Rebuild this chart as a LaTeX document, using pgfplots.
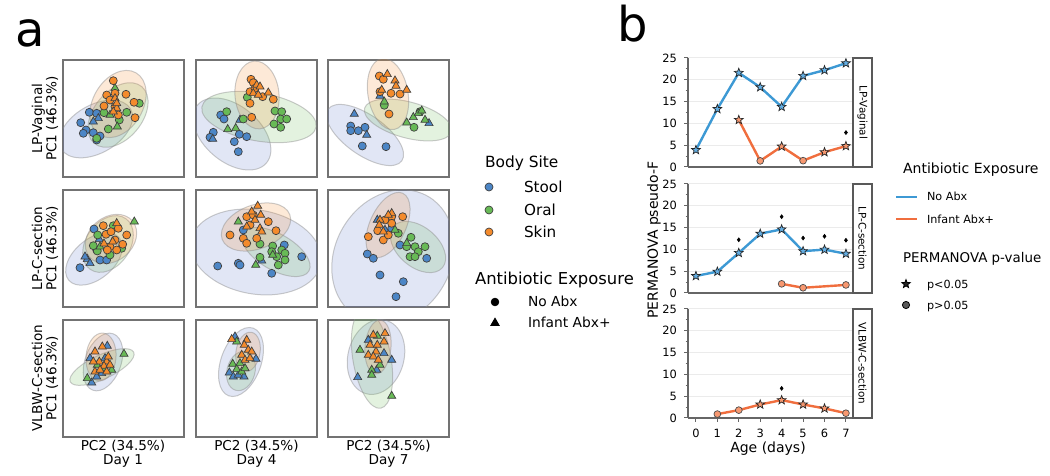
\documentclass[border=0pt]{standalone}
\usepackage{fontspec}
\setmainfont{DejaVu Sans}
\usepackage{pgfplots}
\pgfplotsset{compat=1.18}

\definecolor{cstool}{RGB}{76,134,198}
\definecolor{coral}{RGB}{104,186,86}
\definecolor{cskin}{RGB}{244,139,44}
\definecolor{estool}{RGB}{95,120,200}
\definecolor{bline}{RGB}{61,153,212}
\definecolor{bfill}{RGB}{100,175,228}
\definecolor{oline}{RGB}{240,110,62}
\definecolor{ofill}{RGB}{247,152,112}

\pgfdeclareplotmark{fstar}{%
  \pgfpathmoveto{\pgfpointpolar{90}{\pgfplotmarksize}}%
  \pgfpathlineto{\pgfpointpolar{126}{0.42\pgfplotmarksize}}%
  \pgfpathlineto{\pgfpointpolar{162}{\pgfplotmarksize}}%
  \pgfpathlineto{\pgfpointpolar{198}{0.42\pgfplotmarksize}}%
  \pgfpathlineto{\pgfpointpolar{234}{\pgfplotmarksize}}%
  \pgfpathlineto{\pgfpointpolar{270}{0.42\pgfplotmarksize}}%
  \pgfpathlineto{\pgfpointpolar{306}{\pgfplotmarksize}}%
  \pgfpathlineto{\pgfpointpolar{342}{0.42\pgfplotmarksize}}%
  \pgfpathlineto{\pgfpointpolar{18}{\pgfplotmarksize}}%
  \pgfpathlineto{\pgfpointpolar{54}{0.42\pgfplotmarksize}}%
  \pgfpathclose
  \pgfusepathqfillstroke}

\pgfplotsset{
  pca/.style={scale only axis, width=60.5pt, height=58.5pt, xmin=0, xmax=121, ymin=0, ymax=117,
    xtick=\empty, ytick=\empty, axis line style={draw=black!55, line width=0.7pt}, anchor=south west},
  mk/.style n args={3}{only marks, mark=#1, mark size=#2, mark options={fill=#3, draw=black!75, line width=0.35pt, solid}},
  stC/.style={mk={*}{2pt}{cstool}}, stT/.style={mk={triangle*}{2.35pt}{cstool}},
  orC/.style={mk={*}{2pt}{coral}},  orT/.style={mk={triangle*}{2.35pt}{coral}},
  skC/.style={mk={*}{2pt}{cskin}},  skT/.style={mk={triangle*}{2.35pt}{cskin}},
  bax/.style={scale only axis, width=82.5pt, height=54.5pt, xmin=-0.37, xmax=7.33, ymin=0, ymax=25,
    axis x line*=bottom, axis y line*=left, ytick={0,5,...,25}, minor y tick num=1,
    ymajorgrids, major grid style={black!8, line width=0.5pt}, tick align=outside,
    major tick length=2pt, minor tick length=1.2pt,
    axis line style={black!60, line width=0.6pt}, every tick/.style={black!60, line width=0.5pt},
    tick label style={font=\fontsize{5.7}{6}\selectfont}, /pgf/number format/assume math mode=true,
    clip=false, anchor=south west},
  bstar/.style={only marks, mark=fstar, mark size=2.3pt, mark options={fill=#1, draw=black!85, line width=0.35pt}},
  bcirc/.style={only marks, mark=*, mark size=1.7pt, mark options={fill=#1, draw=black!70, line width=0.35pt}},
  bdia/.style={only marks, mark=diamond*, mark size=0.9pt, mark options={fill=black, draw=black}},
}
\newcommand{\elli}[6]{\fill[fill=#1, fill opacity=0.19, draw=black!45, draw opacity=0.45, line width=0.5pt] (axis cs:#2,#3) ellipse [x radius=#4pt, y radius=#5pt, rotate=#6];}
\newcommand{\strip}[1]{%
  \draw[black!65, line width=0.6pt, fill=white] (rel axis cs:1,0) rectangle ([xshift=9.5pt]rel axis cs:1,1);
  \node[rotate=-90, font=\fontsize{5.2}{5.5}\selectfont] at ([xshift=4.75pt]rel axis cs:1,0.5) {#1};}

\begin{document}
\begin{tikzpicture}
\path[use as bounding box] (0,0) rectangle (525pt,238pt);

% ---------- Row 1: LP-Vaginal ----------
\begin{axis}[pca, at={(31.5pt,149.5pt)}]
\elli{estool}{33}{48}{20}{12}{30}
\elli{coral}{55}{62}{18.5}{12}{50}
\elli{cskin}{55}{73}{18}{12.5}{60}
\addplot[stC] coordinates {(17.7,54.3)(26.3,64.7)(23,47)(30.3,44.3)(37,41)(33.7,37)(20.3,43.7)(33.7,63.7)};
\addplot[stT] coordinates {(35.3,58.7)(30.3,55.3)};
\addplot[orC] coordinates {(76.3,73.7)(41,64.3)(56.3,57)(33.7,38.7)(45.3,48)(63.7,64.7)};
\addplot[orT] coordinates {(54.3,50.3)(47,62)(52,88.7)};
\addplot[skC] coordinates {(50.3,96.3)(43.7,82)(52,83.7)(63,82.7)(71,74.7)(72,59.3)(41,71)(55.3,62)(52,70.3)(47,77)};
\addplot[skT] coordinates {(52,78.7)(53.7,68.7)(50.3,65.3)(53.7,73.7)};
\end{axis}

\begin{axis}[pca, at={(98pt,149.5pt)}]
\elli{estool}{36}{43}{22.5}{14}{-40}
\elli{coral}{63}{60}{29}{12}{-10}
\elli{cskin}{61}{82}{17}{11}{95}
\addplot[stC] coordinates {(24.7,62)(28,58)(17.3,44.7)(14,39.7)(43.3,42.7)(50.7,40.3)(38.3,35.3)(42.3,25.3)};
\addplot[stT] coordinates {(16.7,38)(44,57)};
\addplot[orC] coordinates {(51.3,79.7)(30.7,65.3)(79,66)(85.7,65.3)(84.7,58)(90.7,58)(78,53)(84.7,49.7)(47.3,58)};
\addplot[orT] coordinates {(31.7,47.7)(39.7,48.7)};
\addplot[skC] coordinates {(55,97.7)(57.3,94.3)(54,85.3)(66.7,80.3)(77.3,77.7)(54,73.7)(55.7,59.7)(59,88.7)};
\addplot[skT] coordinates {(60.7,92)(64,90.3)(72.3,84.3)(57.3,83.7)(62.3,82)};
\end{axis}

\begin{axis}[pca, at={(164pt,149.5pt)}]
\elli{estool}{37}{42}{22.5}{10}{-35}
\elli{coral}{80}{57}{22.5}{9}{-15}
\elli{cskin}{60}{83}{18}{10}{100}
\addplot[stC] coordinates {(22.7,51)(22.7,46.3)(30.3,46.3)(37,49.7)(34.3,31)(58,30.3)};
\addplot[stT] coordinates {(26.3,63)(38.7,42)(52,81)(101,53.7)};
\addplot[orC] coordinates {(56.3,71.7)(86,49.7)(92,65.3)};
\addplot[orT] coordinates {(56.3,75.3)(78.7,54.3)(85.3,59.7)(90.3,63.7)(93.7,66.3)(97,57)};
\addplot[skC] coordinates {(51.3,101)(55.3,97.7)(52,85.3)(63,83.7)(72,83)(61,63)};
\addplot[skT] coordinates {(59.3,102.7)(67,96.3)(68,91)(78.7,87)(53.7,87)};
\end{axis}

% ---------- Row 2: LP-C-section ----------
\begin{axis}[pca, at={(31.5pt,84.5pt)}]
\elli{estool}{31}{48}{16.5}{10}{40}
\elli{coral}{45}{63}{15.5}{11}{55}
\elli{cskin}{48}{68}{14}{11}{40}
\addplot[stC] coordinates {(31,78)(17,39.3)(37,47)(43.7,47)(33.7,57)};
\addplot[stT] coordinates {(24.3,47.7)(27,43.7)(36.3,67.7)(22,50.3)};
\addplot[orC] coordinates {(34.7,72)(34.3,56)(47,52)(58.7,58.7)(30.3,61.3)(50.3,81.3)};
\addplot[orT] coordinates {(37,60.3)(71.3,85.3)};
\addplot[skC] coordinates {(43,72.7)(48,75.3)(52,67)(63.7,72)(59.7,62.7)(47,60.3)(53.7,57)(44.3,57)(40.3,81.3)(55.3,78.7)};
\addplot[skT] coordinates {(53.7,83.7)(49.7,65.3)(41,63.3)};
\end{axis}

\begin{axis}[pca, at={(98pt,84.5pt)}]
\elli{estool}{60}{55}{33}{21}{-10}
\elli{coral}{80}{55}{19}{9}{-30}
\elli{cskin}{60}{80}{18}{11}{20}
\addplot[stC] coordinates {(21.7,41)(42.3,43.7)(44,42)(75.7,33.7)(88.3,62)(105.7,50.3)(47.3,77)};
\addplot[stT] coordinates {(65.7,46.3)};
\addplot[orC] coordinates {(64,63)(76.7,61)(85.7,57)(89,53.7)(80.7,50.3)(82.3,42)(89,47)(75.7,55.3)(64,49.7)};
\addplot[orT] coordinates {(42.3,85.3)(59.7,42)(76.7,52)};
\addplot[skC] coordinates {(50.7,90.3)(57.3,92)(72.3,85.3)(80,76.3)(34,72)(47.3,68.7)(60.7,68.7)(50.7,63.7)(54,82)};
\addplot[skT] coordinates {(61.7,101)(55.7,95.3)(64.7,92)(59,87)(64,78.7)(65.7,75.3)(50.7,80.3)};
\end{axis}

\begin{axis}[pca, at={(164pt,84.5pt)}]
\elli{estool}{65}{50}{35}{29}{60}
\elli{coral}{90}{60}{16}{10}{-40}
\elli{cskin}{60}{82}{17.5}{9}{65}
\addplot[stC] coordinates {(72,62)(98.7,48.7)(39.3,53)(45.3,48.7)(52,32)(75.3,25.3)(68,10.3)(63.7,78.7)};
\addplot[stT] coordinates {(49.3,87)(57,77)};
\addplot[orC] coordinates {(70.3,73.7)(83,69.7)(87,60.3)(78.7,60.3)(90.3,55.3)(82,50.3)(87,50.3)(97,60.3)};
\addplot[orT] coordinates {(67,77)(78.7,63.7)};
\addplot[skC] coordinates {(49.7,76.3)(57,87)(63.7,90.3)(74.7,90.3)(40.3,70.3)(55.3,67)(63.7,83.7)(60.3,72)};
\addplot[skT] coordinates {(63.7,93.7)(60.3,92)(52,87)(55.3,75.3)(51.3,82)};
\end{axis}

% ---------- Row 3: VLBW-C-section ----------
\begin{axis}[pca, at={(31.5pt,19.5pt)}]
\elli{estool}{40}{75}{15}{9}{70}
\elli{coral}{39}{70}{17.5}{6}{25}
\elli{cskin}{38}{80}{12}{7.5}{85}
\addplot[stT] coordinates {(44.3,91)(27,78.7)(28.7,54.3)(38.7,63.7)(42,78.7)(33.7,60.3)};
\addplot[orT] coordinates {(61,83)(24.3,58.7)(48.7,67)(34.3,72)(40.3,68.7)};
\addplot[skT] coordinates {(32,85.3)(39.3,90.3)(36.3,75.3)(43.7,75.3)(41,71)(47,72)(32,65.3)(37,67)(43.7,65.3)(30.3,75.3)(45.3,80.3)};
\end{axis}

\begin{axis}[pca, at={(98pt,19.5pt)}]
\elli{estool}{45}{75}{18}{10}{70}
\elli{coral}{45}{66}{10}{7}{75}
\elli{cskin}{52}{85}{10}{6}{80}
\addplot[stT] coordinates {(39,100.3)(60,78)(33.3,64.3)(37.3,60.3)(48,60.3)(42.3,62)};
\addplot[orT] coordinates {(40.7,95.3)(36.7,73)(40.7,67.7)(45.7,65.3)(49,68.7)(44,73.7)};
\addplot[skT] coordinates {(35.7,97.7)(50.7,97)(48.3,92)(52.3,87)(55.7,85.3)(45.7,82)(49,77)(54,78.7)};
\end{axis}

\begin{axis}[pca, at={(164pt,19.5pt)}]
\elli{estool}{48}{80}{19}{14}{75}
\elli{coral}{44}{78}{25}{9.5}{100}
\elli{cskin}{50}{90}{13.5}{6.5}{85}
\addplot[stT] coordinates {(40.3,97)(63.7,77)(29.7,59.7)(56,83.7)(48.7,67)};
\addplot[orT] coordinates {(49.3,101)(32,87)(43.7,67)(52,72)(63.7,41)(43.7,62)};
\addplot[skT] coordinates {(45.3,102)(57,103.7)(56,95.3)(42,92)(49.3,92)(48,85.3)(40.3,82)(45.3,80.3)(50.3,77)};
\end{axis}

% ---------- Panel b ----------
\begin{axis}[bax, at={(344pt,154.5pt)}, xtick=\empty]
\addplot[bline, line width=1.2pt] coordinates {(0,3.9)(1,13.3)(2,21.6)(3,18.3)(4,13.8)(5,20.9)(6,22.2)(7,23.8)};
\addplot[oline, line width=1.2pt] coordinates {(2,10.8)(3,1.4)(4,4.7)(5,1.45)(6,3.4)(7,4.8)};
\addplot[bstar=bfill] coordinates {(0,3.9)(1,13.3)(2,21.6)(3,18.3)(4,13.8)(5,20.9)(6,22.2)(7,23.8)};
\addplot[bstar=ofill] coordinates {(2,10.8)(4,4.7)(6,3.4)(7,4.8)};
\addplot[bcirc=ofill] coordinates {(3,1.4)(5,1.45)};
\addplot[bdia] coordinates {(7,7.9)};
\strip{LP-Vaginal}
\end{axis}

\begin{axis}[bax, at={(344pt,91.5pt)}, xtick=\empty]
\addplot[bline, line width=1.2pt] coordinates {(0,3.9)(1,4.9)(2,9.2)(3,13.6)(4,14.6)(5,9.6)(6,9.95)(7,9.0)};
\addplot[oline, line width=1.2pt] coordinates {(4,2.1)(5,1.2)(7,1.85)};
\addplot[bstar=bfill] coordinates {(0,3.9)(1,4.9)(2,9.2)(3,13.6)(4,14.6)(5,9.6)(6,9.95)(7,9.0)};
\addplot[bcirc=ofill] coordinates {(4,2.1)(5,1.2)(7,1.85)};
\addplot[bdia] coordinates {(2,12.2)(4,17.5)(5,12.6)(6,13.0)(7,12.1)};
\strip{LP-C-section}
\end{axis}

\begin{axis}[bax, at={(344pt,29pt)}, xtick={0,...,7}]
\addplot[oline, line width=1.2pt] coordinates {(1,0.9)(2,1.8)(3,3.1)(4,4.1)(5,3.1)(6,2.2)(7,1.1)};
\addplot[bstar=ofill] coordinates {(3,3.1)(4,4.1)(5,3.1)(6,2.2)};
\addplot[bcirc=ofill] coordinates {(1,0.9)(2,1.8)(7,1.1)};
\addplot[bdia] coordinates {(4,6.8)};
\strip{VLBW-C-section}
\end{axis}

% ---------- canvas: labels and legends ----------
\begin{axis}[hide axis, scale only axis, width=525pt, height=238pt, xmin=0, xmax=1050, ymin=0, ymax=476,
  y dir=reverse, at={(0pt,0pt)}, anchor=south west, clip=false]
\node[anchor=base west, font=\fontsize{24}{28}\selectfont] at (axis cs:8,47) {a};
\node[anchor=base west, font=\fontsize{24}{28}\selectfont] at (axis cs:610,42) {b};

\node[rotate=90, align=center, font=\fontsize{6.8}{7.2}\selectfont] at (axis cs:45,118.5) {LP-Vaginal\\PC1 (46.3\%)};
\node[rotate=90, align=center, font=\fontsize{6.8}{7.2}\selectfont] at (axis cs:45,248.5) {LP-C-section\\PC1 (46.3\%)};
\node[rotate=90, align=center, font=\fontsize{6.8}{7.2}\selectfont] at (axis cs:45,378) {VLBW-C-section\\PC1 (46.3\%)};

\node[anchor=base, font=\fontsize{6.8}{7.2}\selectfont] at (axis cs:123,450) {PC2 (34.5\%)};
\node[anchor=base, font=\fontsize{6.8}{7.2}\selectfont] at (axis cs:123,464) {Day 1};
\node[anchor=base, font=\fontsize{6.8}{7.2}\selectfont] at (axis cs:256.5,450) {PC2 (34.5\%)};
\node[anchor=base, font=\fontsize{6.8}{7.2}\selectfont] at (axis cs:256.5,464) {Day 4};
\node[anchor=base, font=\fontsize{6.8}{7.2}\selectfont] at (axis cs:388.5,450) {PC2 (34.5\%)};
\node[anchor=base, font=\fontsize{6.8}{7.2}\selectfont] at (axis cs:388.5,464) {Day 7};

% legend a
\node[anchor=base west, font=\fontsize{7.7}{8}\selectfont] at (axis cs:478,168) {Body Site};
\addplot[stC, mark size=2pt] coordinates {(489,187)};
\addplot[orC, mark size=2pt] coordinates {(489,210)};
\addplot[skC, mark size=2pt] coordinates {(489,232)};
\node[anchor=base west, font=\fontsize{7.6}{8}\selectfont] at (axis cs:517,192) {Stool};
\node[anchor=base west, font=\fontsize{7.6}{8}\selectfont] at (axis cs:517,215) {Oral};
\node[anchor=base west, font=\fontsize{7.6}{8}\selectfont] at (axis cs:517,237) {Skin};
\node[anchor=base west, font=\fontsize{8.2}{9}\selectfont] at (axis cs:468,284) {Antibiotic Exposure};
\addplot[only marks, mark=*, mark size=1.9pt, black] coordinates {(495,302)};
\addplot[only marks, mark=triangle*, mark size=2.4pt, black] coordinates {(495,323)};
\node[anchor=base west, font=\fontsize{6.9}{8}\selectfont] at (axis cs:521,306) {No Abx};
\node[anchor=base west, font=\fontsize{6.9}{8}\selectfont] at (axis cs:521,327.5) {Infant Abx+};

% panel b labels
\node[rotate=90, font=\fontsize{7}{8}\selectfont] at (axis cs:654,240) {PERMANOVA pseudo-F};
\node[anchor=base, font=\fontsize{7}{8}\selectfont] at (axis cs:768,452) {Age (days)};

% legend b
\node[anchor=base west, font=\fontsize{7}{8}\selectfont] at (axis cs:896,174) {Antibiotic Exposure};
\addplot[bline, line width=1.2pt] coordinates {(896,197)(917,197)};
\addplot[oline, line width=1.2pt] coordinates {(896,219)(917,219)};
\node[anchor=base west, font=\fontsize{5.6}{6}\selectfont] at (axis cs:920,200.5) {No Abx};
\node[anchor=base west, font=\fontsize{5.6}{6}\selectfont] at (axis cs:920,223) {Infant Abx+};
\node[anchor=base west, font=\fontsize{6.7}{7}\selectfont] at (axis cs:896,262) {PERMANOVA p-value};
\addplot[only marks, mark=fstar, mark size=2.2pt, mark options={fill=black!85, draw=black}] coordinates {(906,284)};
\addplot[only marks, mark=*, mark size=1.8pt, mark options={fill=black!65, draw=black}] coordinates {(906,305)};
\node[anchor=base west, font=\fontsize{5.6}{6}\selectfont] at (axis cs:920,288) {p<0.05};
\node[anchor=base west, font=\fontsize{5.6}{6}\selectfont] at (axis cs:920,309) {p>0.05};
\end{axis}
\end{tikzpicture}
\end{document}
